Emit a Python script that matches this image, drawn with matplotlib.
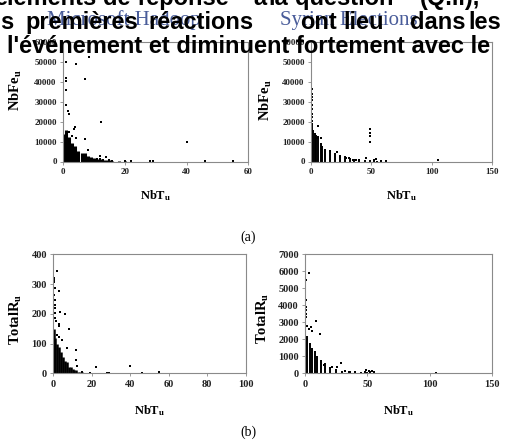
import numpy as np
import matplotlib.pyplot as plt

W, H = 506, 441

# --- data ---
# (a) left: Microsoft Hadoop, NbFe_u vs NbT_u
a1_col_x = [0.5, 1, 2, 3, 4, 5, 6, 7, 8, 9, 10, 11, 12, 13, 14, 15, 16, 18, 20]
a1_col_top = [14000, 16000, 12500, 9500, 8000, 5500, 4500, 4200, 3000, 2200, 2000,
              1500, 1400, 900, 800, 600, 400, 300, 200]
a1_x = [1, 4.3, 8.3, 1, 1, 7.2, 1, 1, 1.5, 2, 12.3, 3.5, 4, 4.3, 7, 8, 12, 14, 12,
        16, 20, 22, 28, 29, 40, 46, 55, 11, 13, 15, 10, 3, 2]
a1_y = [50000, 49200, 52600, 41900, 40200, 41200, 36000, 28400, 25500, 24000, 19600,
        16500, 17500, 12000, 11500, 6000, 3000, 2500, 1500, 300, 100, 200, 100, 100,
        9800, 400, 300, 1200, 800, 600, 500, 13000, 15000]

# (a) right: Syrian Elections
a2_col_x = [0, 1, 2, 3, 4, 6, 8, 9, 12, 16, 20, 24, 28, 32, 36, 40, 45, 49, 52, 55]
a2_col_top = [18000, 18800, 16000, 14500, 13500, 12900, 9500, 7800, 6200, 5200, 4200,
              3500, 2600, 2000, 1500, 1000, 800, 700, 400, 300]
a2_x = [1, 1, 1, 1, 1, 1, 1, 1, 1, 1, 6, 4, 6, 8, 49, 49, 49, 49, 15.7, 21.5, 24,
        29, 31.5, 34.5, 37, 40, 45.6, 52.5, 54, 105.5, 62, 58]
a2_y = [36600, 34000, 32400, 30700, 28500, 26400, 23900, 22200, 20500, 19000, 17600,
        12000, 12000, 12000, 16300, 14200, 12600, 9800, 5200, 4700, 2400, 1900, 1900,
        1000, 700, 900, 1900, 900, 1100, 700, 200, 300]

# (b) left: TotalR_u vs NbT_u
b1_col_x = [0.5, 1, 2, 3, 4, 5, 6, 7, 8, 9, 10, 11, 12, 13, 14, 15]
b1_col_top = [150, 118, 100, 90, 73, 56, 40, 38, 22, 20, 13, 12, 12, 5, 5, 4]
b1_x = [2, 0.5, 0.5, 0.5, 0.7, 3, 0.6, 0.8, 0.7, 0.8, 0.9, 3.6, 6, 8, 3, 3, 2, 3,
        4.3, 12, 7, 12, 12.3, 22, 40, 28, 29, 46, 55, 15, 19, 1, 1.2]
b1_y = [343, 319, 313, 308, 286, 277, 263, 246, 230, 218, 202, 205, 198, 150, 165,
        158, 130, 122, 113, 77, 85, 45, 24, 20, 24, 1, 1, 2, 3, 3, 1, 185, 175]

# (b) right
b2_col_x = [0, 1, 2, 4, 6, 8, 10, 13, 16, 20, 25, 30, 35, 40, 45, 50, 55]
b2_col_top = [2000, 2200, 2200, 1800, 1500, 1300, 1000, 800, 600, 400, 250, 150, 110,
              80, 60, 50, 40]
b2_x = [3, 1, 1, 1, 1, 1, 1, 9, 5, 6, 12, 29, 26, 15, 22, 32, 36, 40, 49, 51, 54, 48,
        52, 55, 105, 20, 2, 3]
b2_y = [5900, 5500, 4300, 3900, 3700, 3500, 3300, 3100, 2750, 2500, 2300, 620, 400,
        500, 400, 130, 100, 70, 190, 150, 120, 80, 100, 100, 30, 300, 2800, 2600]

titles = ['Microsoft Hadoop', 'Syrian Elections']
line1 = ['éléments', 'de', 'réponse', 'à', 'la', 'question', '(Q.ii),']
line2 = ['s', 'premières', 'réactions', 'ont', 'lieu', 'dans', 'les']
line3 = ['l\'événement et diminuent fortement avec le']

plt.rcParams['mathtext.fontset'] = 'custom'
plt.rcParams['mathtext.rm'] = 'Liberation Serif'
plt.rcParams['mathtext.bf'] = 'Liberation Serif:bold'

fig = plt.figure(figsize=(W / 100, H / 100), dpi=100)


def box(l, t, r, b):
    return [l / W, 1 - b / H, (r - l) / W, (b - t) / H]


def panel(rect, cx, ctop, x, y, xmax, ymax, xstep, ystep, ylab, ylc, xlc, fs, lw):
    ax = fig.add_axes(rect)
    ax.vlines(cx, 0, ctop, color='black', lw=lw)
    ax.scatter(x, y, s=2.5, marker='s', color='black', linewidths=0)
    ax.set_xlim(0, xmax)
    ax.set_ylim(0, ymax)
    ax.set_xticks(np.arange(0, xmax + 1, xstep))
    ax.set_yticks(np.arange(0, ymax + 1, ystep))
    for s in ax.spines.values():
        s.set_color('#8a8a8a')
        s.set_linewidth(0.8)
    ax.tick_params(direction='out', length=2.5, width=0.6, color='#8a8a8a',
                   labelsize=fs, pad=2, labelcolor='#222222')
    for lab in ax.get_xticklabels() + ax.get_yticklabels():
        lab.set_family('Liberation Serif')
        lab.set_fontweight('bold')
    ax.set_xlabel(r'$\mathbf{NbT_u}$', fontsize=9)
    ax.xaxis.set_label_coords(0.5, xlc)
    ax.set_ylabel(ylab, fontsize=10.5)
    ax.yaxis.set_label_coords(*ylc)
    return ax


panel(box(63, 42, 248.5, 161.5), a1_col_x, a1_col_top, a1_x, a1_y, 60, 60000, 20, 10000,
      r'$\mathbf{NbFe_u}$', (-0.21, 0.6), -0.22, 6.5, 2.2)
panel(box(311, 42, 492, 161.5), a2_col_x, a2_col_top, a2_x, a2_y, 150, 60000, 50, 10000,
      r'$\mathbf{NbFe_u}$', (-0.205, 0.51), -0.22, 6.5, 1.4)
panel(box(53.3, 254.3, 245.7, 373.3), b1_col_x, b1_col_top, b1_x, b1_y, 100, 400, 20, 100,
      r'$\mathbf{TotalR_u}$', (-0.15, 0.45), -0.25, 7.5, 1.8)
panel(box(305, 254.3, 492.3, 373.3), b2_col_x, b2_col_top, b2_x, b2_y, 150, 7000, 50, 1000,
      r'$\mathbf{TotalR_u}$', (-0.18, 0.46), -0.25, 7.5, 1.4)

fig.text(248 / W, 1 - 237 / H, '(a)', family='Liberation Serif', fontsize=10,
         ha='center', va='center')
fig.text(248 / W, 1 - 432 / H, '(b)', family='Liberation Serif', fontsize=10,
         ha='center', va='center')

# panel titles, partly hidden under the page text
fig.text(47 / W, 1 - 25 / H, titles[0], family='Liberation Serif', fontsize=15,
         color='#4a5d9a', va='baseline')
fig.text(280 / W, 1 - 25 / H, titles[1], family='Liberation Serif', fontsize=15,
         color='#4a5d9a', va='baseline')

# overlaid page text (justified lines)
pos1 = [-6, 103, 137, 253, 268, 295, 420]
pos2 = [0, 25, 148, 300, 343, 410, 468]
pos3 = [7]
for words, pos, base in [(line1, pos1, 5), (line2, pos2, 29), (line3, pos3, 53)]:
    for w, p in zip(words, pos):
        fig.text(p / W, 1 - base / H, w, family='Liberation Sans', fontweight='bold',
                 fontsize=17, color='black', va='baseline', zorder=10)

fig.savefig('out.png', dpi=100)
